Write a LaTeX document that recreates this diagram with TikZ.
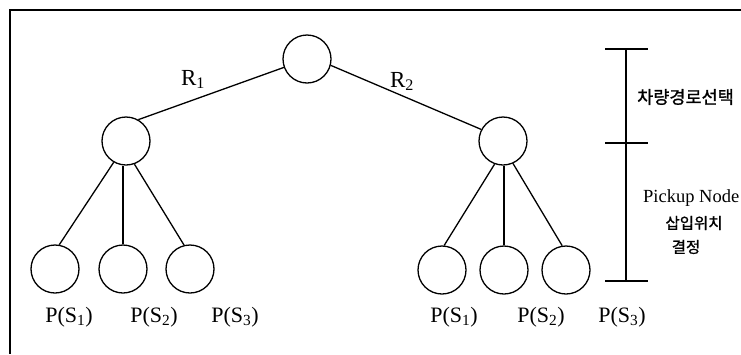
\documentclass[tikz,border=0pt]{standalone}
\usepackage{fontspec}
\setmainfont{Liberation Serif}
\newfontfamily\kofont[FakeBold=1.2]{Noto Sans CJK KR}
\begin{document}
\begin{tikzpicture}[x=1pt,y=-1pt,
  circ/.style={draw,circle,line width=1.3pt,minimum size=48pt,inner sep=0pt},
  edge/.style={line width=1.3pt},
  bar/.style={line width=1.3pt},
  frame/.style={line width=1.5pt},
  lab/.style={font=\fontsize{22}{22}\selectfont,inner sep=0pt},
  rlab/.style={font=\fontsize{23}{23}\selectfont,inner sep=0pt,anchor=base},
  kor/.style={font=\kofont\fontsize{17.5}{17.5}\selectfont,inner sep=0pt},
  korsm/.style={font=\kofont\fontsize{15.5}{15.5}\selectfont,inner sep=0pt},
  eng/.style={font=\fontsize{18.5}{18.5}\selectfont,inner sep=0pt}]
\useasboundingbox (0,0) rectangle (741,354);
\coordinate (fr) at (741,10);
\coordinate (fc) at (10,10);
\coordinate (fb) at (10,354);
\draw[frame] (fr) -- (fc) -- (fb);

\node[circ] (top) at (307,59) {};
\node[circ] (m1) at (126,141) {};
\node[circ] (m2) at (503,141) {};
\node[circ] (c1) at (55,269) {};
\node[circ] (c2) at (123,269) {};
\node[circ] (c3) at (190,269) {};
\node[circ] (d1) at (442,270) {};
\node[circ] (d2) at (504,270) {};
\node[circ] (d3) at (566,270) {};

\draw[edge] (top.200) -- (m1.60);
\draw[edge] (top.345) -- (m2.152);
\draw[edge] (m1.240) -- (c1.80);
\draw[edge] (c2.north) -- (c2.north |- m1.south);
\draw[edge] (m1.290) -- (c3.104);
\draw[edge] (m2.250) -- (d1.85);
\draw[edge] (d2.north) -- (d2.north |- m2.south);
\draw[edge] (m2.294) -- (d3.99);

\node[rlab] (r1) at (193,85) {R\textsubscript{1}};
\node[rlab] (r2) at (402,87) {R\textsubscript{2}};

\node[lab] (p1) at (69,317) {P(S\textsubscript{1})};
\node[lab] (p2) at (154,317) {P(S\textsubscript{2})};
\node[lab] (p3) at (235,317) {P(S\textsubscript{3})};
\node[lab] (q1) at (454,317) {P(S\textsubscript{1})};
\node[lab] (q2) at (541,317) {P(S\textsubscript{2})};
\node[lab] (q3) at (622,317) {P(S\textsubscript{3})};

\coordinate (bt) at (626,49);
\coordinate (bm) at (626,143);
\coordinate (bb) at (626,281);
\coordinate (btl) at (605,49);
\coordinate (btr) at (648,49);
\coordinate (bml) at (605,143);
\coordinate (bmr) at (648,143);
\coordinate (bbl) at (605,281);
\coordinate (bbr) at (648,281);
\draw[bar] (bt) -- (bb);
\draw[bar] (btl) -- (btr);
\draw[bar] (bml) -- (bmr);
\draw[bar] (bbl) -- (bbr);

\node[kor,anchor=west] (k1) at (637,97) {차량경로선택};
\node[eng,anchor=west] (k2) at (643,198) {Pickup Node};
\node[korsm] (k3) at (694,223) {삽입위치};
\node[korsm] (k4) at (686,247) {결정};
\end{tikzpicture}
\end{document}
